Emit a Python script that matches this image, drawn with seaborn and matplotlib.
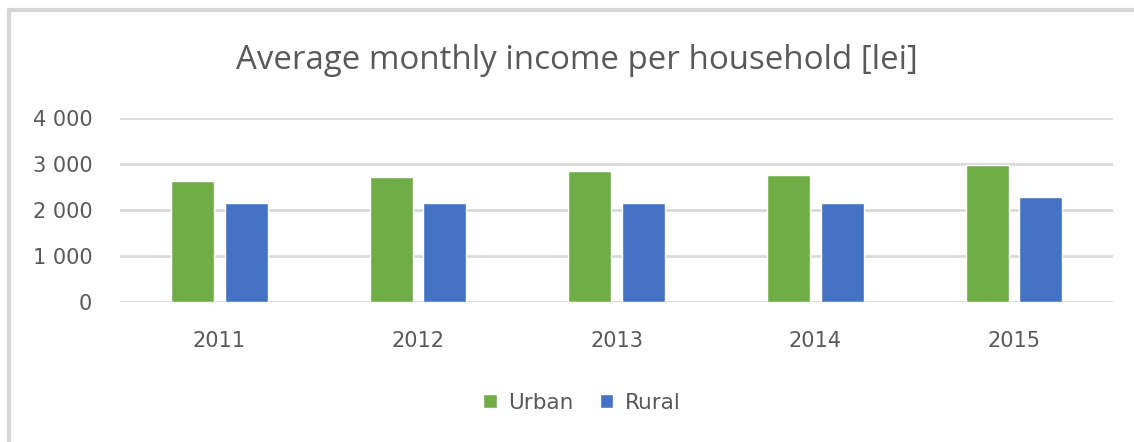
import matplotlib
matplotlib.use("Agg")
import matplotlib.pyplot as plt
from matplotlib.lines import Line2D
from matplotlib.ticker import FuncFormatter
import seaborn as sns
import pandas as pd

years = ["2011", "2012", "2013", "2014", "2015"]
urban = [2640, 2720, 2855, 2770, 2980]
rural = [2150, 2150, 2150, 2150, 2290]
series_names = ["Urban", "Rural"]
y_ticks = [0, 1000, 2000, 3000, 4000]

df = pd.DataFrame({
    "year": years * 2,
    "income": urban + rural,
    "area": [series_names[0]] * len(years) + [series_names[1]] * len(years),
})

sns.set_theme(style="white")
plt.rcParams["font.family"] = ["DejaVu Sans"]

text_grey = "#595959"

fig = plt.figure(figsize=(11.34, 4.42), dpi=100)
ax = fig.add_axes([0.1058, 0.317, 0.876, 0.415])

sns.barplot(data=df, x="year", y="income", hue="area",
            palette={"Urban": "#70AD47", "Rural": "#4472C4"},
            width=0.54, gap=0.2, saturation=1, ax=ax, legend=True)

ax.set_xlim(-0.5, 4.5)
ax.set_ylim(0, 4000)
ax.set_yticks(y_ticks)
ax.yaxis.set_major_formatter(FuncFormatter(lambda v, p: f"{int(v):,}".replace(",", " ")))
ax.grid(axis="y", color="#D9D9D9", linewidth=2)
ax.set_axisbelow(True)
for s in ax.spines.values():
    s.set_visible(False)
ax.set_xlabel("")
ax.set_ylabel("")
ax.tick_params(axis="y", colors=text_grey, labelsize=15, length=0, pad=20)
ax.tick_params(axis="x", colors=text_grey, labelsize=15, length=0, pad=21)

fig.text(0.509, 0.864, "Average monthly income per household [lei]", ha="center",
         va="center", fontsize=23.8, color=text_grey, family="Open Sans")

leg = ax.legend(loc="center", bbox_to_anchor=(0.465, -0.55), ncol=2,
                frameon=False, fontsize=15.5, handlelength=0.62, handleheight=0.62,
                columnspacing=1.2, handletextpad=0.55)
for t in leg.get_texts():
    t.set_color(text_grey)

# chart-area frame: left and top edges
frame_kw = dict(transform=fig.transFigure, color="#D6D6D6", linewidth=3)
fig.add_artist(Line2D([9 / 1134, 9 / 1134], [0, 1 - 10 / 442], **frame_kw))
fig.add_artist(Line2D([9 / 1134, 1], [1 - 10 / 442, 1 - 10 / 442], **frame_kw))

fig.savefig("out.png", dpi=100, facecolor="white")
